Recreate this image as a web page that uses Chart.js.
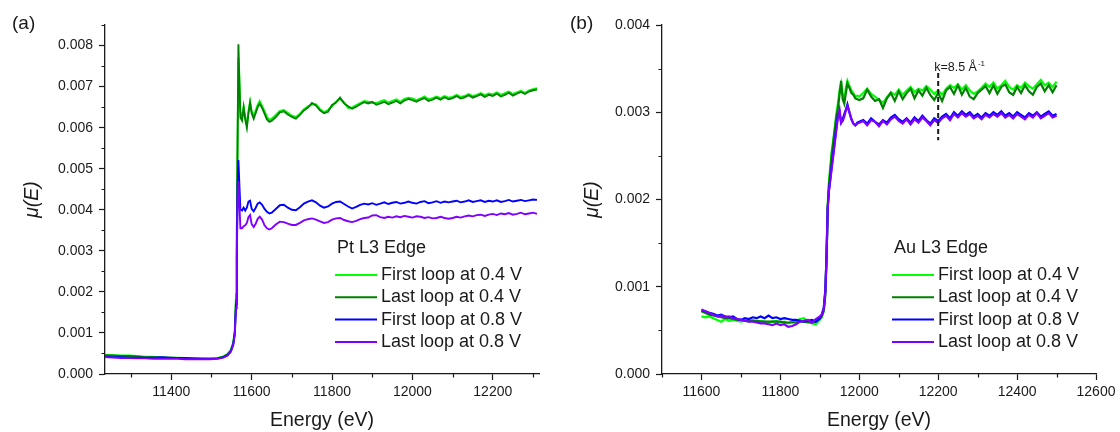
<!DOCTYPE html>
<html>
<head>
<meta charset="utf-8">
<script src="https://cdn.jsdelivr.net/npm/chart.js@4.4.1/dist/chart.umd.min.js"></script>
<style>
  html, body { margin: 0; padding: 0; background: #fff; }
  #wrap { position: relative; width: 1120px; height: 432px; }
  canvas { position: absolute; top: 0; }
  #ptChart { left: 0; }
  #auChart { left: 560px; }
</style>
</head>
<body>
<div id="wrap">
  <canvas id="ptChart" width="560" height="432"></canvas>
  <canvas id="auChart" width="560" height="432"></canvas>
</div>
<script>
// series labels + colours (same in both panels)
const seriesLabels = ['First loop at 0.4 V', 'Last loop at 0.4 V', 'First loop at 0.8 V', 'Last loop at 0.8 V'];
const seriesColors = ['#00FF00', '#008000', '#0000FF', '#8000FF'];

// (a) Pt L3 edge
const ptEnergy = [11235, 11255, 11275, 11295, 11315, 11335, 11355, 11375, 11395, 11415, 11435, 11455, 11475, 11495, 11515,
    11530, 11540, 11548, 11554, 11558, 11561, 11563, 11565, 11567, 11569, 11572,
    11576, 11580, 11584, 11588, 11592, 11596, 11600, 11605, 11610, 11615, 11620, 11626, 11632, 11638, 11644, 11650,
    11660, 11670, 11680, 11690, 11700, 11710, 11720, 11730, 11740, 11750,
    11760, 11770, 11780, 11790, 11800, 11810, 11820, 11830, 11840, 11850,
    11860, 11870, 11880, 11890, 11900, 11910, 11920, 11930, 11940, 11950,
    11960, 11970, 11980, 11990, 12000, 12010, 12020, 12030, 12040, 12050,
    12060, 12070, 12080, 12090, 12100, 12110, 12120, 12130, 12140, 12150,
    12160, 12170, 12180, 12190, 12200, 12210, 12220, 12230, 12240, 12250,
    12260, 12270, 12280, 12290, 12300, 12310];

const ptFirst04 = [0.00047, 0.00046, 0.00045, 0.00045, 0.00044, 0.00042, 0.00042, 0.00041, 0.00040, 0.00040, 0.00039, 0.00038, 0.00038, 0.00037, 0.00039,
    0.00043, 0.00049, 0.00059, 0.00077, 0.00108, 0.00195, 0.00345, 0.00560, 0.00770, 0.00735, 0.00640,
    0.00622, 0.00652, 0.00626, 0.00606, 0.00640, 0.00664, 0.00641, 0.00628, 0.00642, 0.00656, 0.00665, 0.00653, 0.00640, 0.00626, 0.00619, 0.00622,
    0.00631, 0.00641, 0.00643, 0.00636, 0.00629, 0.00626, 0.00634, 0.00645, 0.00652, 0.00656,
    0.00657, 0.00645, 0.00638, 0.00643, 0.00652, 0.00664, 0.00670, 0.00662, 0.00648, 0.00649,
    0.00655, 0.00660, 0.00665, 0.00663, 0.00660, 0.00660, 0.00664, 0.00667, 0.00661, 0.00665,
    0.00669, 0.00663, 0.00670, 0.00673, 0.00671, 0.00667, 0.00671, 0.00676, 0.00669, 0.00672,
    0.00676, 0.00672, 0.00677, 0.00673, 0.00675, 0.00680, 0.00675, 0.00677, 0.00682, 0.00677,
    0.00680, 0.00684, 0.00679, 0.00683, 0.00681, 0.00686, 0.00680, 0.00684, 0.00688, 0.00682,
    0.00686, 0.00690, 0.00685, 0.00691, 0.00694, 0.00696];

const ptLast04 = [0.00046, 0.00045, 0.00044, 0.00044, 0.00043, 0.00041, 0.00041, 0.00040, 0.00040, 0.00039, 0.00038, 0.00038, 0.00037, 0.00037, 0.00038,
    0.00042, 0.00048, 0.00057, 0.00074, 0.00100, 0.00180, 0.00330, 0.00580, 0.00803, 0.00720, 0.00625,
    0.00618, 0.00648, 0.00620, 0.00600, 0.00635, 0.00660, 0.00635, 0.00622, 0.00636, 0.00650, 0.00659, 0.00648, 0.00634, 0.00620, 0.00614, 0.00617,
    0.00626, 0.00637, 0.00640, 0.00632, 0.00626, 0.00622, 0.00631, 0.00642, 0.00649, 0.00660,
    0.00654, 0.00642, 0.00635, 0.00639, 0.00655, 0.00661, 0.00673, 0.00659, 0.00652, 0.00646,
    0.00651, 0.00657, 0.00662, 0.00659, 0.00663, 0.00656, 0.00659, 0.00663, 0.00657, 0.00661,
    0.00665, 0.00659, 0.00666, 0.00670, 0.00667, 0.00663, 0.00668, 0.00672, 0.00665, 0.00668,
    0.00673, 0.00668, 0.00674, 0.00669, 0.00672, 0.00677, 0.00671, 0.00674, 0.00679, 0.00673,
    0.00677, 0.00681, 0.00675, 0.00680, 0.00677, 0.00683, 0.00676, 0.00680, 0.00685, 0.00678,
    0.00683, 0.00687, 0.00682, 0.00688, 0.00691, 0.00693];

const ptFirst08 = [0.00042, 0.00041, 0.00041, 0.00040, 0.00040, 0.00040, 0.00040, 0.00041, 0.00040, 0.00039, 0.00039, 0.00038, 0.00037, 0.00037, 0.00038,
    0.00041, 0.00046, 0.00055, 0.00072, 0.00100, 0.00170, 0.00300, 0.00460, 0.00521, 0.00470, 0.00400,
    0.00398, 0.00405, 0.00398, 0.00405, 0.00420, 0.00422, 0.00402, 0.00396, 0.00405, 0.00415, 0.00418, 0.00412, 0.00402, 0.00395, 0.00391, 0.00393,
    0.00402, 0.00411, 0.00412, 0.00405, 0.00400, 0.00399, 0.00406, 0.00415, 0.00420, 0.00423,
    0.00418, 0.00410, 0.00405, 0.00408, 0.00415, 0.00419, 0.00420, 0.00414, 0.00408, 0.00403,
    0.00407, 0.00412, 0.00415, 0.00413, 0.00416, 0.00412, 0.00415, 0.00418, 0.00414, 0.00417,
    0.00419, 0.00415, 0.00417, 0.00420, 0.00417, 0.00415, 0.00419, 0.00421, 0.00416, 0.00418,
    0.00421, 0.00417, 0.00420, 0.00418, 0.00420, 0.00422, 0.00418, 0.00420, 0.00423, 0.00419,
    0.00421, 0.00423, 0.00419, 0.00422, 0.00420, 0.00423, 0.00419, 0.00421, 0.00424, 0.00420,
    0.00422, 0.00424, 0.00421, 0.00423, 0.00425, 0.00424];

const ptLast08 = [0.00041, 0.00040, 0.00039, 0.00039, 0.00038, 0.00038, 0.00037, 0.00037, 0.00037, 0.00037, 0.00036, 0.00036, 0.00036, 0.00036, 0.00037,
    0.00040, 0.00045, 0.00054, 0.00070, 0.00095, 0.00160, 0.00280, 0.00420, 0.00470, 0.00420, 0.00355,
    0.00355, 0.00360, 0.00362, 0.00368, 0.00382, 0.00387, 0.00365, 0.00358, 0.00366, 0.00378, 0.00383, 0.00376, 0.00362, 0.00355, 0.00352, 0.00355,
    0.00364, 0.00371, 0.00370, 0.00366, 0.00363, 0.00363, 0.00368, 0.00374, 0.00377, 0.00379,
    0.00376, 0.00372, 0.00368, 0.00370, 0.00376, 0.00379, 0.00380, 0.00375, 0.00372, 0.00370,
    0.00373, 0.00377, 0.00380, 0.00381, 0.00386, 0.00387, 0.00382, 0.00380, 0.00383, 0.00381,
    0.00384, 0.00382, 0.00385, 0.00383, 0.00381, 0.00384, 0.00383, 0.00380, 0.00382, 0.00379,
    0.00380, 0.00383, 0.00380, 0.00378, 0.00380, 0.00383, 0.00381, 0.00384, 0.00386, 0.00384,
    0.00387, 0.00388, 0.00385, 0.00388, 0.00390, 0.00387, 0.00391, 0.00389, 0.00392, 0.00388,
    0.00390, 0.00393, 0.00389, 0.00391, 0.00393, 0.00390];

// (b) Au L3 edge
const auEnergy = [11600, 11610, 11620, 11630, 11640, 11650, 11660, 11670, 11680, 11690,
    11700, 11710, 11720, 11730, 11740, 11750, 11760, 11770, 11780, 11790,
    11800, 11810, 11820, 11830, 11840, 11850, 11860, 11870, 11880, 11890, 11900,
    11905, 11910, 11914, 11917, 11920, 11923, 11926, 11930, 11934, 11938, 11942, 11946,
    11950, 11954, 11958, 11962, 11966, 11970, 11975, 11980, 11985, 11990, 11995, 12000,
    12010, 12020, 12030, 12040, 12050, 12060, 12070, 12080, 12090, 12100,
    12110, 12120, 12130, 12140, 12150, 12160, 12170, 12180, 12190, 12200,
    12210, 12220, 12230, 12240, 12250, 12260, 12270, 12280, 12290, 12300,
    12310, 12320, 12330, 12340, 12350, 12360, 12370, 12380, 12390, 12400,
    12410, 12420, 12430, 12440, 12450, 12460, 12470, 12480, 12490, 12500];

const auFirst04 = [0.00066, 0.00065, 0.00066, 0.00064, 0.00062, 0.00060, 0.00063, 0.00061, 0.00062, 0.00061,
    0.00060, 0.00061, 0.00060, 0.00062, 0.00060, 0.00061, 0.00060, 0.00059, 0.00060, 0.00061,
    0.00059, 0.00060, 0.00058, 0.00060, 0.00061, 0.00063, 0.00064, 0.00060, 0.00058, 0.00057, 0.00062,
    0.00065, 0.00074, 0.00095, 0.00135, 0.00195, 0.00220, 0.00235, 0.00255, 0.00268, 0.00283, 0.00298, 0.00310,
    0.00325, 0.00333, 0.00320, 0.00315, 0.00328, 0.00336, 0.00330, 0.00325, 0.00322, 0.00318, 0.00319, 0.00318,
    0.00322, 0.00327, 0.00321, 0.00318, 0.00314, 0.00311, 0.00317, 0.00323, 0.00320, 0.00326,
    0.00320, 0.00325, 0.00329, 0.00323, 0.00327, 0.00325, 0.00330, 0.00326, 0.00321, 0.00325,
    0.00320, 0.00327, 0.00331, 0.00328, 0.00332, 0.00326, 0.00331, 0.00325, 0.00321, 0.00324,
    0.00328, 0.00333, 0.00329, 0.00334, 0.00327, 0.00331, 0.00336, 0.00329, 0.00326, 0.00331,
    0.00328, 0.00334, 0.00330, 0.00327, 0.00332, 0.00337, 0.00331, 0.00334, 0.00329, 0.00335];

const auLast04 = [0.00072, 0.00070, 0.00068, 0.00067, 0.00066, 0.00065, 0.00064, 0.00064, 0.00063, 0.00062,
    0.00062, 0.00061, 0.00061, 0.00061, 0.00061, 0.00060, 0.00060, 0.00060, 0.00060, 0.00060,
    0.00060, 0.00059, 0.00059, 0.00059, 0.00059, 0.00060, 0.00060, 0.00059, 0.00059, 0.00060, 0.00063,
    0.00066, 0.00072, 0.00090, 0.00130, 0.00190, 0.00215, 0.00230, 0.00250, 0.00265, 0.00280, 0.00295, 0.00305,
    0.00320, 0.00336, 0.00315, 0.00310, 0.00322, 0.00333, 0.00328, 0.00322, 0.00320, 0.00316, 0.00315, 0.00314,
    0.00316, 0.00326, 0.00318, 0.00313, 0.00315, 0.00305, 0.00316, 0.00322, 0.00313, 0.00324,
    0.00315, 0.00322, 0.00327, 0.00316, 0.00325, 0.00319, 0.00328, 0.00320, 0.00314, 0.00322,
    0.00313, 0.00325, 0.00329, 0.00321, 0.00331, 0.00320, 0.00328, 0.00318, 0.00315, 0.00322,
    0.00326, 0.00330, 0.00322, 0.00331, 0.00321, 0.00329, 0.00332, 0.00323, 0.00320, 0.00329,
    0.00322, 0.00331, 0.00324, 0.00320, 0.00329, 0.00333, 0.00324, 0.00331, 0.00323, 0.00331];

const auFirst08 = [0.00073, 0.00072, 0.00070, 0.00069, 0.00067, 0.00068, 0.00066, 0.00065, 0.00066, 0.00063,
    0.00062, 0.00064, 0.00063, 0.00065, 0.00064, 0.00066, 0.00064, 0.00067, 0.00064, 0.00065,
    0.00063, 0.00064, 0.00063, 0.00062, 0.00062, 0.00061, 0.00060, 0.00061, 0.00062, 0.00060, 0.00064,
    0.00068, 0.00076, 0.00096, 0.00135, 0.00190, 0.00210, 0.00222, 0.00238, 0.00252, 0.00268, 0.00283, 0.00297,
    0.00300, 0.00288, 0.00292, 0.00298, 0.00303, 0.00309, 0.00300, 0.00292, 0.00287, 0.00285, 0.00288, 0.00289,
    0.00291, 0.00287, 0.00293, 0.00289, 0.00286, 0.00291, 0.00288, 0.00294, 0.00297, 0.00292,
    0.00289, 0.00293, 0.00288, 0.00294, 0.00290, 0.00296, 0.00291, 0.00287, 0.00293, 0.00290,
    0.00295, 0.00298, 0.00293, 0.00300, 0.00296, 0.00301, 0.00297, 0.00300, 0.00295, 0.00298,
    0.00294, 0.00299, 0.00296, 0.00300, 0.00297, 0.00301, 0.00296, 0.00299, 0.00295, 0.00300,
    0.00297, 0.00294, 0.00299, 0.00296, 0.00300, 0.00295, 0.00298, 0.00301, 0.00296, 0.00298];

const auLast08 = [0.00074, 0.00072, 0.00070, 0.00068, 0.00066, 0.00067, 0.00065, 0.00066, 0.00064, 0.00063,
    0.00062, 0.00061, 0.00060, 0.00060, 0.00059, 0.00058, 0.00058, 0.00057, 0.00056, 0.00058,
    0.00056, 0.00057, 0.00054, 0.00055, 0.00057, 0.00060, 0.00061, 0.00062, 0.00059, 0.00063, 0.00066,
    0.00068, 0.00075, 0.00095, 0.00135, 0.00190, 0.00210, 0.00220, 0.00235, 0.00250, 0.00265, 0.00280, 0.00295,
    0.00303, 0.00288, 0.00290, 0.00295, 0.00302, 0.00307, 0.00300, 0.00292, 0.00287, 0.00285, 0.00287, 0.00288,
    0.00290, 0.00285, 0.00291, 0.00289, 0.00284, 0.00290, 0.00286, 0.00292, 0.00295, 0.00290,
    0.00287, 0.00292, 0.00286, 0.00292, 0.00288, 0.00294, 0.00290, 0.00285, 0.00291, 0.00288,
    0.00293, 0.00296, 0.00291, 0.00298, 0.00294, 0.00299, 0.00295, 0.00298, 0.00293, 0.00296,
    0.00292, 0.00297, 0.00294, 0.00298, 0.00295, 0.00299, 0.00294, 0.00297, 0.00293, 0.00298,
    0.00295, 0.00292, 0.00297, 0.00294, 0.00299, 0.00293, 0.00296, 0.00299, 0.00294, 0.00296];

// k = 8.5 1/Å marker in panel (b)
const kMarkEnergy = 12200;
const kMarkRange = [0.00268, 0.00345];

const FONT = "'Liberation Sans', Arial, Helvetica, sans-serif";
const INK = '#1a1a1a';
Chart.defaults.font.family = FONT;
Chart.defaults.color = INK;

// short outward minor ticks halfway between the labelled ones
const minorTicks = {
    id: 'minorTicks',
    afterDraw(chart, args, opts) {
        const ctx = chart.ctx;
        const xs = chart.scales.x, ys = chart.scales.y;
        ctx.save();
        ctx.strokeStyle = INK;
        ctx.lineWidth = 1.2;
        ctx.beginPath();
        for (let k = Math.ceil(xs.min / opts.x - 1e-9); k * opts.x <= xs.max + 1e-9; k++) {
            if (k % 2 === 0) continue;
            const px = Math.round(xs.getPixelForValue(k * opts.x)) + 0.5;
            ctx.moveTo(px, xs.top);
            ctx.lineTo(px, xs.top + 3.5);
        }
        for (let k = Math.ceil(ys.min / opts.y - 1e-9); k * opts.y <= ys.max + 1e-9; k++) {
            if (k % 2 === 0) continue;
            const py = Math.round(ys.getPixelForValue(k * opts.y)) + 0.5;
            ctx.moveTo(ys.right, py);
            ctx.lineTo(ys.right - 3.5, py);
        }
        ctx.stroke();
        ctx.restore();
    }
};

// panel letter + in-plot legend block
const edgeLegend = {
    id: 'edgeLegend',
    afterDraw(chart, args, opts) {
        const ctx = chart.ctx;
        ctx.save();
        ctx.fillStyle = INK;
        ctx.textBaseline = 'middle';
        ctx.textAlign = 'left';
        ctx.font = '19px ' + FONT;
        ctx.fillText(opts.panel, opts.panelX, 24);

        ctx.font = '18px ' + FONT;
        ctx.fillText(opts.title, opts.x + 2, opts.y);
        chart.data.datasets.forEach((ds, i) => {
            const y = opts.y + 27 + i * 22.3;
            ctx.strokeStyle = ds.borderColor;
            ctx.lineWidth = 2;
            ctx.beginPath();
            ctx.moveTo(opts.x, y);
            ctx.lineTo(opts.x + 42, y);
            ctx.stroke();
            ctx.fillText(ds.label, opts.x + 46, y);
        });
        ctx.restore();
    }
};

// dashed k marker with its label
const kMarker = {
    id: 'kMarker',
    afterDatasetsDraw(chart, args, opts) {
        if (!opts.show) return;
        const ctx = chart.ctx;
        const px = chart.scales.x.getPixelForValue(kMarkEnergy);
        const top = chart.scales.y.getPixelForValue(kMarkRange[1]);
        const bottom = chart.scales.y.getPixelForValue(kMarkRange[0]);
        ctx.save();
        ctx.strokeStyle = INK;
        ctx.lineWidth = 2;
        ctx.setLineDash([5, 3]);
        ctx.beginPath();
        ctx.moveTo(px, top);
        ctx.lineTo(px, bottom);
        ctx.stroke();
        ctx.setLineDash([]);
        ctx.fillStyle = INK;
        ctx.textBaseline = 'middle';
        ctx.textAlign = 'left';
        ctx.font = '12.5px ' + FONT;
        const txt = 'k=8.5 Å';
        const tx = px - 4, ty = top - 5;
        ctx.fillText(txt, tx, ty);
        const w = ctx.measureText(txt).width;
        ctx.font = '8px ' + FONT;
        ctx.fillText('-1', tx + w + 1, ty - 4);
        ctx.restore();
    }
};

function buildDatasets(energy, series, width) {
    return series.map((vals, i) => ({
        label: seriesLabels[i],
        data: energy.map((e, j) => ({ x: e, y: vals[j] })),
        borderColor: seriesColors[i],
        backgroundColor: seriesColors[i],
        borderWidth: width,
        pointRadius: 0,
        tension: 0,
        fill: false,
        order: series.length - i
    }));
}

function buildConfig(p) {
    return {
        type: 'line',
        data: { datasets: buildDatasets(p.energy, p.series, p.lineWidth) },
        options: {
            responsive: false,
            devicePixelRatio: 1,
            animation: false,
            events: [],
            layout: { padding: { top: 25, right: p.padRight, bottom: 0, left: 0 } },
            plugins: {
                legend: { display: false },
                tooltip: { enabled: false },
                minorTicks: { x: 100, y: 0.0005 },
                edgeLegend: { panel: p.panel, panelX: p.panelX, title: p.title, x: p.legendX, y: 248 },
                kMarker: { show: p.kMark }
            },
            scales: {
                x: {
                    type: 'linear',
                    min: p.xMin,
                    max: p.xMax,
                    ticks: {
                        stepSize: 200,
                        includeBounds: false,
                        autoSkip: false,
                        maxRotation: 0,
                        padding: 4,
                        color: INK,
                        font: { size: 14 },
                        callback: v => String(v)
                    },
                    grid: { drawOnChartArea: false, tickLength: 6, tickColor: INK, tickWidth: 1.2 },
                    border: { color: INK, width: 1.3 },
                    title: {
                        display: true,
                        text: 'Energy (eV)',
                        color: INK,
                        font: { size: 19.5 },
                        padding: { top: 0, bottom: 0 }
                    },
                    afterFit: s => { s.height = 58; }
                },
                y: {
                    min: 0,
                    max: p.yMax,
                    ticks: {
                        stepSize: 0.001,
                        includeBounds: false,
                        padding: 6,
                        color: INK,
                        font: { size: 14 },
                        callback: v => v.toFixed(3)
                    },
                    grid: { drawOnChartArea: false, tickLength: 6, tickColor: INK, tickWidth: 1.2 },
                    border: { color: INK, width: 1.3 },
                    title: {
                        display: true,
                        text: 'μ(E)',
                        color: INK,
                        font: { size: 19.5, style: 'italic' },
                        padding: { top: 21, bottom: 0 }
                    },
                    afterFit: s => { s.width = p.yWidth; }
                }
            }
        },
        plugins: [minorTicks, edgeLegend, kMarker]
    };
}

document.addEventListener('DOMContentLoaded', function () {
    new Chart(document.getElementById('ptChart'), buildConfig({
        energy: ptEnergy,
        series: [ptFirst04, ptLast04, ptFirst08, ptLast08],
        xMin: 11235, xMax: 12315, yMax: 0.0085,
        yWidth: 105, padRight: 21, lineWidth: 1.9,
        panel: '(a)', panelX: 12, title: 'Pt L3 Edge', legendX: 335,
        kMark: false
    }));

    new Chart(document.getElementById('auChart'), buildConfig({
        energy: auEnergy,
        series: [auFirst04, auLast04, auFirst08, auLast08],
        xMin: 11500, xMax: 12600, yMax: 0.004,
        yWidth: 102, padRight: 24, lineWidth: 2.2,
        panel: '(b)', panelX: 10, title: 'Au L3 Edge', legendX: 332,
        kMark: true
    }));
});
</script>
</body>
</html>
